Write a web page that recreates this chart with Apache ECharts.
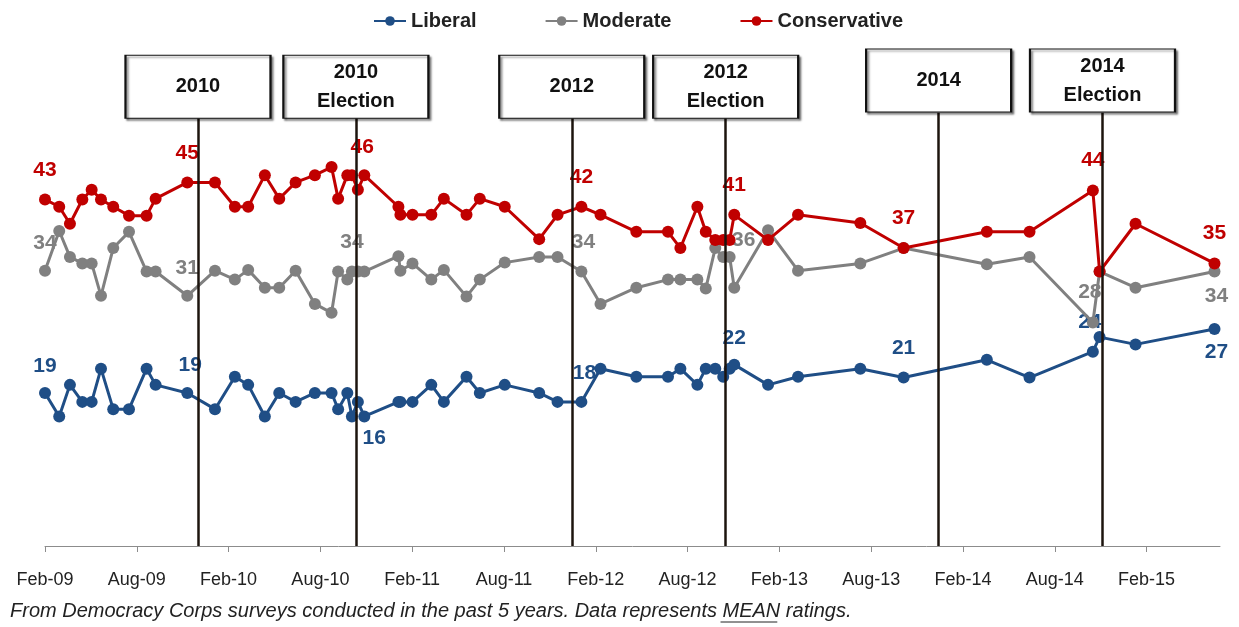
<!DOCTYPE html>
<html>
<head>
<meta charset="utf-8">
<script src="https://cdn.jsdelivr.net/npm/echarts@6/dist/echarts.min.js"></script>
<style>
html,body{margin:0;padding:0;background:#fff;}
#chart{width:1239px;height:627px;}
</style>
</head>
<body>
<div id="chart"></div>
<script>
// Survey dates as months since Feb 2009
const surveyMonths = [0, 0.93, 1.63, 2.44, 3.05, 3.66, 4.46, 5.49, 6.64, 7.23, 9.30, 11.11, 12.41, 13.28, 14.37, 15.31, 16.38, 17.64, 18.73, 19.16, 19.76, 20.06, 20.45, 20.87, 23.10, 23.23, 24.02, 25.25, 26.07, 27.55, 28.42, 30.05, 32.30, 33.50, 35.06, 36.31, 38.65, 40.72, 41.53, 42.64, 43.19, 43.81, 44.33, 44.75, 45.05, 47.26, 49.22, 53.29, 56.12, 61.56, 64.35, 68.49, 68.93, 71.28, 76.44];
const liberal = [18.9, 16.0, 19.9, 17.8, 17.8, 21.9, 16.9, 16.9, 21.9, 19.9, 18.9, 16.9, 20.9, 19.9, 16.0, 18.9, 17.8, 18.9, 18.9, 16.9, 18.9, 16.0, 17.8, 16.0, 17.8, 17.8, 17.8, 19.9, 17.8, 20.9, 18.9, 19.9, 18.9, 17.8, 17.8, 21.9, 20.9, 20.9, 21.9, 19.9, 21.9, 21.9, 20.9, 21.9, 22.4, 19.9, 20.9, 21.9, 20.8, 23.0, 20.8, 24.0, 25.8, 24.9, 26.8];
const moderate = [34.0, 38.9, 35.7, 34.9, 34.9, 30.9, 36.8, 38.8, 33.9, 33.9, 30.9, 34.0, 32.9, 34.1, 31.9, 31.9, 34.0, 29.9, 28.8, 33.9, 32.9, 33.9, 33.9, 33.9, 35.8, 34.0, 34.9, 32.9, 34.1, 30.8, 32.9, 35.0, 35.7, 35.7, 33.9, 29.9, 31.9, 32.9, 32.9, 32.9, 31.8, 36.8, 35.7, 35.7, 31.9, 39.0, 34.0, 34.9, 36.8, 34.8, 35.7, 27.6, 33.9, 31.9, 33.9];
const conservative = [42.8, 41.9, 39.8, 42.8, 44.0, 42.8, 41.9, 40.8, 40.8, 42.9, 44.9, 44.9, 41.9, 41.9, 45.8, 42.9, 44.9, 45.8, 46.8, 42.9, 45.8, 45.8, 44.0, 45.8, 41.9, 40.9, 40.9, 40.9, 42.9, 40.9, 42.9, 41.9, 37.9, 40.9, 41.9, 40.9, 38.8, 38.8, 36.8, 41.9, 38.8, 37.8, 37.8, 37.8, 40.9, 37.8, 40.9, 39.9, 36.8, 38.8, 38.8, 43.9, 33.9, 39.8, 34.9];
const seriesNames = ['Liberal', 'Moderate', 'Conservative'];
const tickMonths = [0, 6, 12, 18, 24, 30, 36, 42, 48, 54, 60, 66, 72];
const tickLabels = ['Feb-09', 'Aug-09', 'Feb-10', 'Aug-10', 'Feb-11', 'Aug-11', 'Feb-12', 'Aug-12', 'Feb-13', 'Aug-13', 'Feb-14', 'Aug-14', 'Feb-15'];
const eventNames = ['2010', '2010\nElection', '2012', '2012\nElection', '2014', '2014\nElection'];
const eventMonths = [10.0, 20.32, 34.43, 44.49, 58.41, 69.12];
const footerText = 'From Democracy Corps surveys conducted in the past 5 years. Data represents ';
const footerUnderlined = 'MEAN';
const footerEnd = ' ratings.';

// which points carry a value label, with label offsets (styling)
const labelSpecs = [
  {0: [0, -27], 10: [3, -28], 23: [10, 22], 34: [3, -29], 44: [0, -26], 48: [0, -29], 51: [-3, -29], 54: [2, 23]},
  {0: [0, -28], 10: [0, -28], 21: [0, -29], 34: [2, -29], 43: [14, -17], 51: [-3, -30], 54: [2, 25]},
  {0: [0, -29], 10: [0, -29], 23: [-2, -28], 34: [0, -30], 44: [0, -30], 48: [0, -30], 51: [0, -30], 54: [0, -30]}
];
const colors = ['#1F4E86', '#808080', '#C00000'];
const values = [liberal, moderate, conservative];

const chart = echarts.init(document.getElementById('chart'), null, {renderer: 'canvas'});

function buildData(vals, spec, color) {
  return surveyMonths.map((m, i) => {
    const item = {value: [m, vals[i]]};
    if (spec[i]) {
      item.label = {
        show: true, position: 'inside', offset: spec[i],
        formatter: String(Math.round(vals[i])),
        color: color, fontSize: 21, fontWeight: 'bold', fontFamily: 'Liberation Sans, Arial, sans-serif'
      };
    }
    return item;
  });
}

const lineSeries = seriesNames.map((name, s) => ({
  name: name,
  type: 'line',
  data: buildData(values[s], labelSpecs[s], colors[s]),
  symbol: 'circle',
  symbolSize: 12,
  lineStyle: {color: colors[s], width: 3},
  itemStyle: {color: colors[s]},
  label: {show: false},
  emphasis: {disabled: true},
  z: 2 + s
}));

const boxY = [56.73, 56.73, 56.73, 56.73, 57.49, 57.49];
const lineTop = [52.84, 52.84, 52.84, 52.84, 53.5, 53.5];

const eventSeries = {
  name: 'events',
  type: 'line',
  data: [],
  z: 10,
  silent: true,
  markLine: {
    silent: true,
    symbol: ['none', 'none'],
    label: {show: false},
    lineStyle: {color: '#1c140e', width: 2.5, type: 'solid'},
    emphasis: {disabled: true},
    data: eventMonths.map((m, i) => [{coord: [m, 0]}, {coord: [m, lineTop[i]]}])
  },
  markPoint: {
    silent: true,
    symbol: 'rect',
    symbolSize: [145, 63],
    itemStyle: {color: '#fff', borderColor: '#111', borderWidth: 1.5, shadowColor: 'rgba(0,0,0,0.45)', shadowOffsetX: 2, shadowOffsetY: 2, shadowBlur: 2},
    label: {show: true, position: 'inside', formatter: '{b}', color: '#111', fontSize: 20, fontWeight: 'bold', lineHeight: 29, fontFamily: 'Liberation Sans, Arial, sans-serif'},
    emphasis: {disabled: true},
    data: eventMonths.map((m, i) => ({name: eventNames[i], coord: [m, boxY[i]]}))
  }
};

// footer underline measurement
const cv = document.createElement('canvas').getContext('2d');
const footerFont = 'italic 20px "Liberation Sans"';
cv.font = footerFont;
const w1 = cv.measureText(footerText).width;
const w2 = cv.measureText(footerUnderlined).width;
const footerX = 10, footerY = 601;

chart.setOption({
  animation: false,
  backgroundColor: '#fff',
  grid: {left: 45, right: 19, top: 44, bottom: 81, containLabel: false},
  legend: {
    data: seriesNames,
    top: 6,
    left: 368,
    itemGap: 68,
    itemWidth: 32,
    itemHeight: 12,
    textStyle: {fontSize: 20, fontWeight: 'bold', color: '#222', fontFamily: 'Liberation Sans, Arial, sans-serif'}
  },
  xAxis: {
    type: 'value',
    min: 0,
    max: 76.8,
    splitLine: {show: false},
    axisLine: {show: true, lineStyle: {color: '#8c8c8c', width: 1}},
    axisTick: {show: true, length: 6, customValues: tickMonths, lineStyle: {color: '#8c8c8c'}},
    axisLabel: {
      customValues: tickMonths,
      margin: 25,
      formatter: v => tickLabels[tickMonths.indexOf(Math.round(v))] || '',
      fontSize: 18, color: '#222', fontFamily: 'Liberation Sans, Arial, sans-serif'
    }
  },
  yAxis: {
    type: 'value', min: 0, max: 62,
    show: false,
    splitLine: {show: false}
  },
  series: lineSeries.concat([eventSeries]),
  graphic: [
    {type: 'text', left: footerX, top: footerY, style: {text: footerText + footerUnderlined + footerEnd, font: footerFont, fill: '#222'}},
    {type: 'line', shape: {x1: footerX + w1 - 2, y1: footerY + 21, x2: footerX + w1 + w2 - 3, y2: footerY + 21}, style: {stroke: '#222', lineWidth: 1}}
  ]
});
</script>
</body>
</html>
